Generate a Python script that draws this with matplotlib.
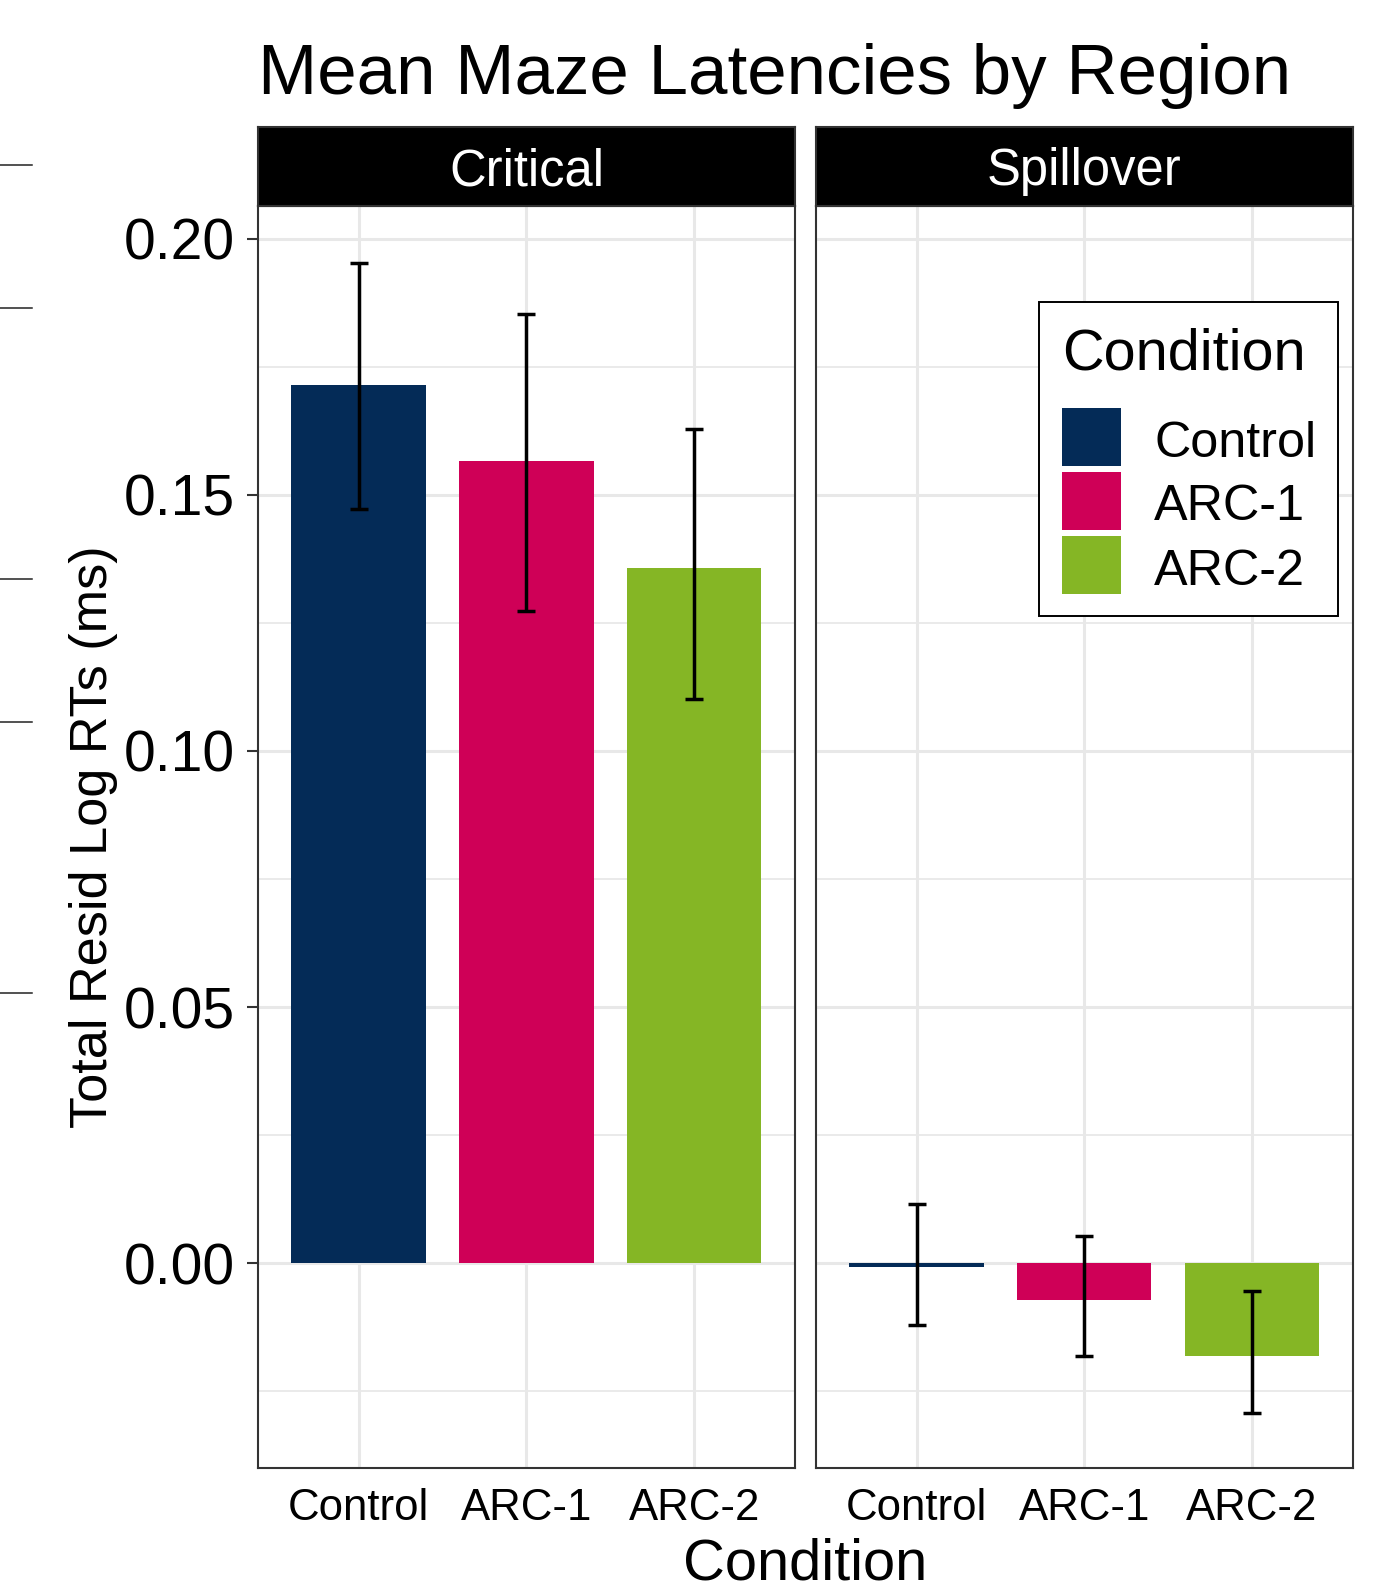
import matplotlib
matplotlib.use('Agg')
import numpy as np
import matplotlib.pyplot as plt
from matplotlib.lines import Line2D
from matplotlib.patches import Rectangle

plt.rcParams['font.family'] = ['Liberation Sans', 'DejaVu Sans']

# ---------------- data ----------------
conditions = ['Control', 'ARC-1', 'ARC-2']
regions = ['Critical', 'Spillover']
critical_mean = [0.1714, 0.1566, 0.1357]
critical_lower = [0.1472, 0.1274, 0.1102]
critical_upper = [0.1953, 0.1853, 0.1628]
spillover_mean = [-0.0008, -0.0072, -0.0181]
spillover_lower = [-0.0121, -0.0182, -0.0292]
spillover_upper = [0.0116, 0.0053, -0.0055]
colors = ['#042B57', '#CF0057', '#85B625']
y_ticks = [0.00, 0.05, 0.10, 0.15, 0.20]
y_tick_labels = ['0.00', '0.05', '0.10', '0.15', '0.20']
y_minor = [-0.025, 0.025, 0.075, 0.125, 0.175]
title = 'Mean Maze Latencies by Region'
x_title = 'Condition'
y_title = 'Total Resid Log RTs (ms)'
legend_title = 'Condition'

# ---------------- layout helpers ----------------
W, H = 1378, 1585
fig = plt.figure(figsize=(W / 100, H / 100), dpi=100)
fig.patch.set_facecolor('white')


def fx(px):
    return px / W


def fy(py):
    return 1 - py / H


panel_top, panel_bot = 206, 1468
strip_top = 127
panels_x = [(257.8, 795.0), (815.9, 1352.7)]
grid_col = '#E8E8E8'
border_col = '#333333'

data = {
    'Critical': (critical_mean, critical_lower, critical_upper),
    'Spillover': (spillover_mean, spillover_lower, spillover_upper),
}

x = np.arange(1, len(conditions) + 1)
for i, region in enumerate(regions):
    x0, x1 = panels_x[i]
    ax = fig.add_axes([fx(x0), fy(panel_bot), (x1 - x0) / W, (panel_bot - panel_top) / H])
    means, lows, ups = [np.array(v) for v in data[region]]
    ax.bar(x, means, width=0.8, color=colors, linewidth=0, zorder=2)
    ax.errorbar(x, means, yerr=[means - lows, ups - means], fmt='none', ecolor='black',
                elinewidth=2.5, capsize=6.4, capthick=2.5, zorder=3)
    ax.set_xlim(0.4, 3.6)
    ax.set_ylim(-0.0400, 0.2064)
    ax.set_xticks(x)
    ax.set_xticklabels(conditions, fontsize=31.5)
    ax.set_yticks(y_ticks)
    ax.set_yticks(y_minor, minor=True)
    ax.set_axisbelow(True)
    ax.grid(True, which='major', color=grid_col, linewidth=2.2, zorder=0)
    ax.grid(True, which='minor', axis='y', color=grid_col, linewidth=1.3, zorder=0)
    for s in ax.spines.values():
        s.set_color(border_col)
        s.set_linewidth(1.5)
    ax.tick_params(axis='x', length=0, pad=14.5, labelcolor='black')
    ax.tick_params(which='minor', length=0)
    if i == 0:
        ax.set_yticklabels(y_tick_labels, fontsize=41)
        ax.tick_params(axis='y', length=8, width=1.5, color=border_col, pad=8.4, labelcolor='black')
    else:
        ax.tick_params(axis='y', left=False, labelleft=False)

    # strip
    sax = fig.add_axes([fx(x0), fy(panel_top), (x1 - x0) / W, (panel_top - strip_top) / H])
    sax.set_facecolor('black')
    sax.set_xticks([])
    sax.set_yticks([])
    for s in sax.spines.values():
        s.set_color(border_col)
        s.set_linewidth(1.5)
    fig.text(fx((x0 + x1) / 2), fy(185), region, color='white', fontsize=36.5,
             ha='center', va='baseline')

# titles
fig.text(fx(257.8), fy(94), title, fontsize=51, ha='left', va='baseline')
fig.text(fx(805), fy(1579), x_title, fontsize=41.7, ha='center', va='baseline')
fig.text(fx(107), fy(837), y_title, fontsize=37.6, rotation=90, rotation_mode='anchor',
         ha='center', va='baseline')

# legend (manual)
fig.add_artist(Rectangle((fx(1039), fy(616)), (1338 - 1039) / W, (616 - 301.7) / H,
                         transform=fig.transFigure, facecolor='white', edgecolor='black',
                         linewidth=1.4, zorder=5))
fig.text(fx(1061.7), fy(370), legend_title, fontsize=41.5, ha='left', va='baseline', zorder=6)
key_tops = [407.7, 471.7, 535.7]
label_base = [456.7, 520.0, 585.0]
for c, lab, kt, lb in zip(colors, conditions, key_tops, label_base):
    fig.add_artist(Rectangle((fx(1062.3), fy(kt + 58)), 58.4 / W, 58 / H,
                             transform=fig.transFigure, facecolor=c, edgecolor='none', zorder=6))
    fig.text(fx(1154.3), fy(lb), lab, fontsize=36.3, ha='left', va='baseline', zorder=6)

# stray marks on the left edge of the reference
for yy in [165, 308, 579, 722, 993]:
    fig.add_artist(Line2D([0, fx(32)], [fy(yy), fy(yy)], transform=fig.transFigure,
                          color='#222222', linewidth=1.1))

fig.savefig('out.png', dpi=100)
